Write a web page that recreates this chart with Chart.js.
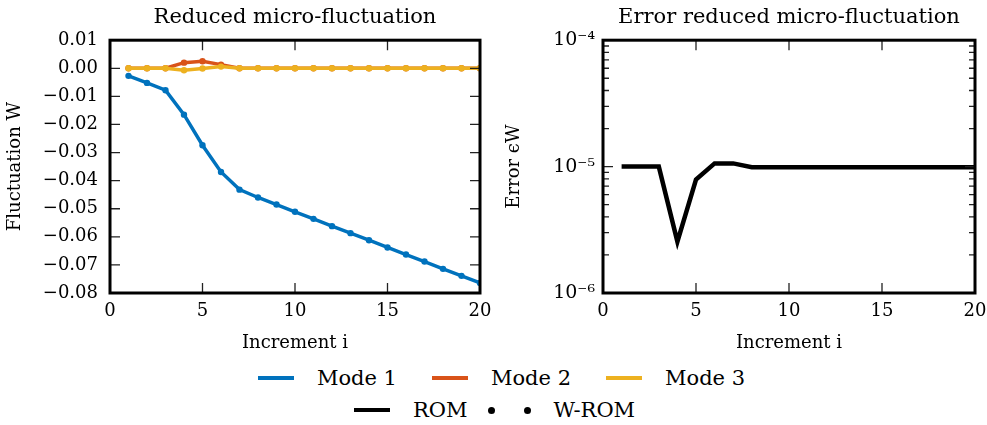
<!DOCTYPE html>
<html>
<head>
<meta charset="utf-8">
<script src="https://cdn.jsdelivr.net/npm/chart.js@4"></script>
<style>
  body { margin: 0; background: #fff; font-family: "DejaVu Serif", serif; }
  #page { position: relative; width: 987px; height: 425px; overflow: hidden; }
  .box { position: absolute; top: 0; height: 360px; }
  #left { left: 0; width: 492px; }
  #right { left: 493px; width: 494px; }
  #legend { position: absolute; left: 0; top: 362px; width: 987px; font-size: 21px; color: #000; }
  .row { display: flex; justify-content: center; align-items: center; height: 32px; }
  .item { display: flex; align-items: center; }
  .swatch { width: 36px; height: 4px; margin-right: 23px; }
  .dots { display: flex; align-items: center; width: 43px; justify-content: space-between; margin-right: 22px; }
  .dot { width: 7px; height: 7px; border-radius: 50%; background: #000; }
</style>
</head>
<body>
<div id="page">
  <div class="box" id="left"><canvas id="fluct"></canvas></div>
  <div class="box" id="right"><canvas id="error"></canvas></div>
  <div id="legend">
    <div class="row" style="padding-left:16px">
      <div class="item" style="margin-right:35px"><span class="swatch" style="background:#0072BD"></span>Mode 1</div>
      <div class="item" style="margin-right:35px"><span class="swatch" style="background:#D95319"></span>Mode 2</div>
      <div class="item"><span class="swatch" style="background:#EDB120"></span>Mode 3</div>
    </div>
    <div class="row" style="padding-left:2px">
      <div class="item" style="margin-right:21px"><span class="swatch" style="background:#000"></span>ROM</div>
      <div class="item"><span class="dots"><span class="dot"></span><span class="dot"></span></span>W-ROM</div>
    </div>
  </div>
</div>
<script>
// values
const increments = [1, 2, 3, 4, 5, 6, 7, 8, 9, 10, 11, 12, 13, 14, 15, 16, 17, 18, 19, 20];
const mode1 = [-0.0027, -0.0052, -0.0078, -0.0165, -0.0274, -0.0369, -0.0432, -0.0460, -0.0485, -0.0511,
               -0.0536, -0.0562, -0.0587, -0.0612, -0.0638, -0.0663, -0.0688, -0.0714, -0.0739, -0.0764];
const mode2 = [0, 0, 0, 0.0020, 0.0025, 0.0013, 0, 0, 0, 0, 0, 0, 0, 0, 0, 0, 0, 0, 0, 0];
const mode3 = [0, 0, 0, -0.0007, -0.0001, 0.0006, 0, 0, 0, 0, 0, 0, 0, 0, 0, 0, 0, 0, 0, 0];
const errorW = [1.0e-5, 1.0e-5, 1.0e-5, 2.55e-6, 7.9e-6, 1.06e-5, 1.06e-5, 9.9e-6, 9.9e-6, 9.9e-6,
                9.9e-6, 9.9e-6, 9.9e-6, 9.9e-6, 9.9e-6, 9.9e-6, 9.9e-6, 9.9e-6, 9.9e-6, 9.9e-6];
const errDecades = [-6, -5];

const blue = "#0072BD", orange = "#D95319", yellow = "#EDB120";

Chart.defaults.font.family = '"DejaVu Serif", serif';
Chart.defaults.color = "#000";

// x,y pairs for a linear x axis
function pairs(ys) {
    return increments.map((x, k) => ({ x: x, y: ys[k] }));
}

const supMap = { "-": "⁻", "0": "⁰", "1": "¹", "2": "²", "3": "³", "4": "⁴", "5": "⁵", "6": "⁶", "7": "⁷", "8": "⁸", "9": "⁹" };
function sup(n) {
    return String(n).split("").map(c => supMap[c]).join("");
}

// black frame + inward ticks on all four sides (matplotlib look)
const frameTicks = {
    id: "frameTicks",
    afterDraw(chart) {
        const { ctx, chartArea: a, scales } = chart;
        const x = scales.x, y = scales.y;
        ctx.save();
        ctx.strokeStyle = "#222";
        ctx.lineWidth = 1.3;
        ctx.beginPath();
        x.ticks.forEach(t => {
            const px = x.getPixelForValue(t.value);
            ctx.moveTo(px, a.top); ctx.lineTo(px, a.top + 10);
            ctx.moveTo(px, a.bottom); ctx.lineTo(px, a.bottom - 10);
        });
        y.ticks.forEach(t => {
            const py = y.getPixelForValue(t.value);
            let len = 10;
            if (y.type === "logarithmic") {
                const e = Math.log10(t.value);
                if (Math.abs(e - Math.round(e)) > 1e-9) len = 6;
            }
            ctx.moveTo(a.left, py); ctx.lineTo(a.left + len, py);
            ctx.moveTo(a.right, py); ctx.lineTo(a.right - len, py);
        });
        ctx.stroke();
        ctx.strokeStyle = "#000";
        ctx.lineWidth = 3;
        ctx.strokeRect(a.left, a.top, a.right - a.left, a.bottom - a.top);
        ctx.restore();
    }
};

function baseOptions(title, yTitle, yTitlePad, padRight) {
    return {
        responsive: true,
        maintainAspectRatio: false,
        animation: false,
        layout: { padding: { left: 0, right: padRight, top: 0, bottom: 0 } },
        plugins: {
            legend: { display: false },
            tooltip: { enabled: false },
            title: {
                display: true,
                fullSize: false,
                text: title,
                font: { size: 21, weight: "normal" },
                padding: { top: 5, bottom: 10 },
            },
        },
        scales: {
            x: {
                type: "linear",
                min: 0,
                max: 20,
                grid: { display: false, drawTicks: false },
                border: { display: false },
                ticks: { stepSize: 5, padding: 8, font: { size: 18 } },
                title: { display: true, text: "Increment i", font: { size: 18 }, padding: { top: 0, bottom: 6 } },
                afterFit: (s) => {
                    s.height = 67;
                    // keep the plot edge fixed; the last label may hang over
                    s.paddingLeft = 0;
                    s.paddingRight = 0;
                },
            },
            y: {
                grid: { display: false, drawTicks: false },
                border: { display: false },
                title: { display: true, text: yTitle, font: { size: 18 }, padding: { top: yTitlePad, bottom: 0 } },
                afterFit: (s) => { s.width = 110; },
            },
        },
    };
}

// left chart: reduced micro-fluctuation
const leftOpts = baseOptions("Reduced micro-fluctuation", "Fluctuation W", 5, 12);
Object.assign(leftOpts.scales.y, {
    type: "linear",
    min: -0.08,
    max: 0.01,
});
leftOpts.scales.y.ticks = {
    stepSize: 0.01,
    padding: 12,
    font: { size: 18 },
    callback: (v) => {
        const r = Math.round(v * 100) / 100;
        return (r < 0 ? "−" : "") + Math.abs(r).toFixed(2);
    },
};

function modeSet(ys, color, order) {
    return {
        data: pairs(ys),
        borderColor: color,
        backgroundColor: color,
        borderWidth: 3.5,
        pointRadius: 3.2,
        pointBorderWidth: 0,
        pointBackgroundColor: color,
        tension: 0,
        order: order,
    };
}

new Chart(document.getElementById("fluct"), {
    type: "line",
    data: {
        datasets: [
            modeSet(mode1, blue, 3),
            modeSet(mode2, orange, 2),
            modeSet(mode3, yellow, 1),
        ],
    },
    options: leftOpts,
    plugins: [frameTicks],
});

// right chart: error on a log scale
const rightOpts = baseOptions("Error reduced micro-fluctuation", "Error ϵW", 11, 12);
Object.assign(rightOpts.scales.y, {
    type: "logarithmic",
    min: 1e-6,
    max: 1e-4,
    afterBuildTicks: (scale) => {
        const ticks = [];
        errDecades.forEach(e => {
            for (let m = 1; m < 10; m++) ticks.push({ value: m * Math.pow(10, e) });
        });
        ticks.push({ value: 1e-4 });
        scale.ticks = ticks;
    },
});
rightOpts.scales.y.ticks = {
    autoSkip: false,
    padding: 8,
    font: { size: 19 },
    callback: (v) => {
        const e = Math.log10(v);
        const r = Math.round(e);
        return Math.abs(e - r) < 1e-9 ? "10" + sup(r) : "";
    },
};

new Chart(document.getElementById("error"), {
    type: "line",
    data: {
        datasets: [{
            data: pairs(errorW),
            borderColor: "#000",
            borderWidth: 4.5,
            pointRadius: 0,
            tension: 0,
        }],
    },
    options: rightOpts,
    plugins: [frameTicks],
});
</script>
</body>
</html>
